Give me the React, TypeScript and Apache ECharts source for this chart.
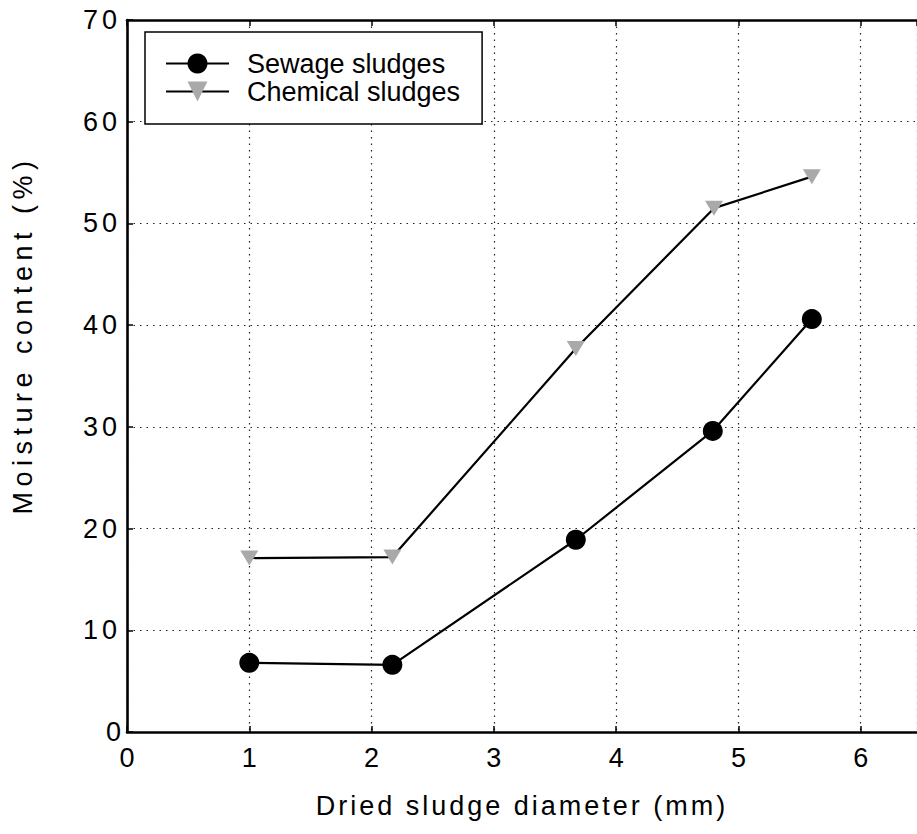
import React, { useEffect, useRef } from 'react';
import * as echarts from 'echarts';

const xSewage = [1.0, 2.17, 3.67, 4.79, 5.6];
const ySewage = [6.8, 6.6, 18.9, 29.6, 40.6];
const xChemical = [1.0, 2.17, 3.67, 4.8, 5.6];
const yChemical = [17.1, 17.2, 37.7, 51.5, 54.6];
const seriesNames = ['Sewage sludges', 'Chemical sludges'];
const xTitle = 'Dried sludge diameter (mm)';
const yTitle = 'Moisture content (%)';
const xMin = 0;
const xMax = 6.46;
const yMin = 0;
const yMax = 70;

const FONT = "'Liberation Sans', Arial, Helvetica, sans-serif";

export default function App() {
  const ref = useRef<HTMLDivElement>(null);
  useEffect(() => {
    if (!ref.current) return;
    const chart = echarts.init(ref.current, null, { renderer: 'svg' });
    const dotted = { color: '#222', width: 1.2, type: [1.5, 5] as any };
    const axisLineStyle = { color: '#000', width: 2.6 };
    chart.setOption({
      animation: false,
      backgroundColor: '#fff',
      textStyle: { fontFamily: FONT, color: '#000' },
      grid: { left: 127, right: 0, top: 20, bottom: 102, containLabel: false },
      legend: {
        orient: 'vertical',
        left: 145,
        top: 32,
        padding: [18, 22, 19, 20],
        itemGap: 1,
        itemWidth: 63,
        itemHeight: 25,
        borderColor: '#000',
        borderWidth: 1.5,
        backgroundColor: '#fff',
        data: seriesNames,
        textStyle: { fontSize: 27, fontFamily: FONT, color: '#000', padding: [0, 0, 0, 13] },
      },
      xAxis: [
        {
          type: 'value',
          min: xMin,
          max: xMax,
          interval: 1,
          name: xTitle,
          nameLocation: 'middle',
          nameGap: 60,
          nameTextStyle: { fontSize: 27, fontFamily: FONT, color: '#000' },
          axisLine: { show: true, onZero: false, lineStyle: axisLineStyle },
          axisTick: { show: true, inside: true, length: 6, lineStyle: { color: '#000', width: 1.5 } },
          axisLabel: {
            fontSize: 27,
            fontFamily: FONT,
            color: '#000',
            margin: 12,
            showMaxLabel: false,
            formatter: (v: number) => (Number.isInteger(v) ? String(v) : ''),
          },
          splitLine: { show: true, lineStyle: dotted },
        },
        {
          type: 'value',
          position: 'top',
          min: xMin,
          max: xMax,
          interval: 1,
          axisLine: { show: true, onZero: false, lineStyle: axisLineStyle },
          axisTick: { show: true, inside: true, length: 6, lineStyle: { color: '#000', width: 1.5 } },
          axisLabel: { show: false },
          splitLine: { show: false },
        },
      ],
      yAxis: {
        type: 'value',
        min: yMin,
        max: yMax,
        interval: 10,
        axisLine: { show: true, onZero: false, lineStyle: axisLineStyle },
        axisTick: { show: true, inside: true, length: 6, lineStyle: { color: '#000', width: 1.5 } },
        axisLabel: { fontSize: 27, fontFamily: FONT, color: '#000', margin: 6 },
        splitLine: { show: true, lineStyle: dotted },
      },
      graphic: [
        {
          type: 'text',
          x: 23,
          y: 335,
          rotation: Math.PI / 2,
          style: {
            text: yTitle,
            font: `27px ${FONT}`,
            fill: '#000',
            align: 'center',
            verticalAlign: 'middle',
          },
        },
      ],
      series: [
        {
          name: seriesNames[0],
          type: 'line',
          data: xSewage.map((x, i) => [x, ySewage[i]]),
          symbol: 'circle',
          symbolSize: 20,
          lineStyle: { color: '#000', width: 2.2 },
          itemStyle: { color: '#000' },
          z: 3,
        },
        {
          name: seriesNames[1],
          type: 'line',
          data: xChemical.map((x, i) => [x, yChemical[i]]),
          symbol: 'path://M0,0L20,0L10,17Z',
          symbolSize: [18, 15],
          lineStyle: { color: '#000', width: 2.2 },
          itemStyle: { color: '#a9a9a9' },
          z: 3,
        },
      ],
    });
    const spacing = (t: string): string | null => {
      if (t === xTitle) return '3px';
      if (t === yTitle) return '5.5px';
      if (/^\d\d$/.test(t)) return '4px';
      return null;
    };
    ref.current.querySelectorAll('text').forEach((el) => {
      const s = spacing((el.textContent || '').trim());
      if (s) (el as SVGTextElement).style.letterSpacing = s;
    });
    return () => chart.dispose();
  }, []);
  return (
    <div
      ref={ref}
      style={{ position: 'fixed', left: 0, top: 0, width: 917, height: 834, background: '#fff' }}
    />
  );
}
